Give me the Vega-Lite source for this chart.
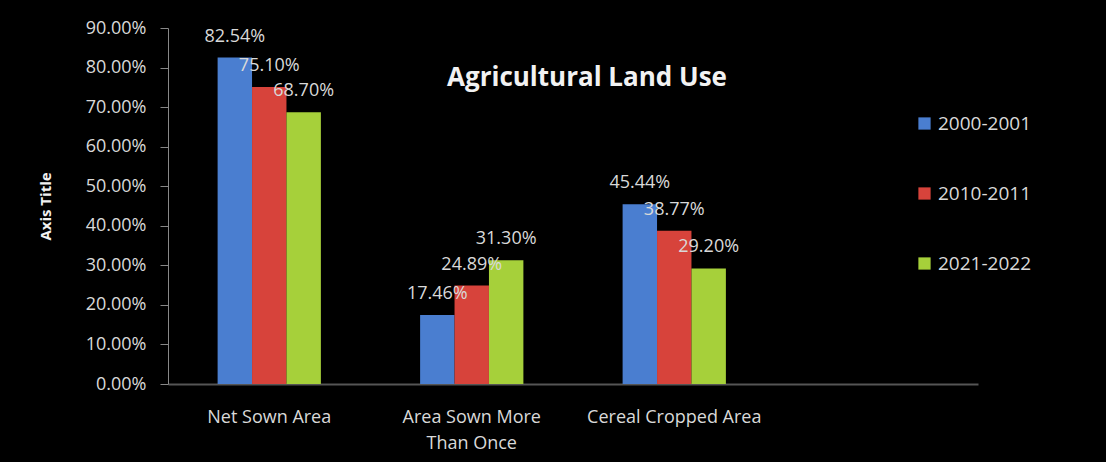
{
  "$schema": "https://vega.github.io/schema/vega-lite/v6.json",
  "autosize": "none",
  "width": 810,
  "height": 356,
  "padding": {"left": 168, "top": 28, "right": 128, "bottom": 78},
  "background": "#000000",
  "config": {"view": {"stroke": null}, "font": "Open Sans"},
  "title": {
    "text": "Agricultural Land Use",
    "anchor": "middle",
    "orient": "top",
    "offset": -72,
    "dx": 14,
    "color": "#f2f2f2",
    "fontSize": 26,
    "fontWeight": "bold",
    "font": "Open Sans"
  },
  "data": {
    "values": [
      {"cat": "Net Sown Area", "year": "2000-2001", "v": 0.8254},
      {"cat": "Net Sown Area", "year": "2010-2011", "v": 0.751},
      {"cat": "Net Sown Area", "year": "2021-2022", "v": 0.687},
      {"cat": "Area Sown More Than Once", "year": "2000-2001", "v": 0.1746},
      {"cat": "Area Sown More Than Once", "year": "2010-2011", "v": 0.2489},
      {"cat": "Area Sown More Than Once", "year": "2021-2022", "v": 0.313},
      {"cat": "Cereal Cropped Area", "year": "2000-2001", "v": 0.4544},
      {"cat": "Cereal Cropped Area", "year": "2010-2011", "v": 0.3877},
      {"cat": "Cereal Cropped Area", "year": "2021-2022", "v": 0.292}
    ]
  },
  "encoding": {
    "x": {
      "field": "cat",
      "type": "nominal",
      "sort": null,
      "scale": {"domain": ["Net Sown Area", "Area Sown More Than Once", "Cereal Cropped Area", " "], "paddingInner": 0.49, "paddingOuter": 0.245},
      "axis": {
        "title": null,
        "labelAngle": 0,
        "labelColor": "#d9d9d9",
        "labelFontSize": 18,
        "labelPadding": 24,
        "ticks": false,
        "domainColor": "#555555",
        "domainWidth": 2,
        "labelExpr": "datum.label == 'Area Sown More Than Once' ? ['Area Sown More', 'Than Once'] : datum.label",
        "labelLineHeight": 26
      }
    },
    "xOffset": {"field": "year", "type": "nominal", "scale": {"paddingInner": 0, "paddingOuter": 0}},
    "y": {
      "field": "v",
      "type": "quantitative",
      "scale": {"domain": [0, 0.9]},
      "axis": {
        "title": "Axis Title",
        "titleColor": "#f2f2f2",
        "titleFontSize": 15,
        "titleFontWeight": "bold",
        "titlePadding": 32,
        "format": ".2%",
        "values": [0, 0.1, 0.2, 0.3, 0.4, 0.5, 0.6, 0.7, 0.8, 0.9],
        "labelColor": "#d9d9d9",
        "labelFontSize": 18,
        "labelPadding": 14,
        "tickSize": 8,
        "tickColor": "#888888",
        "domainColor": "#888888",
        "grid": false
      }
    },
    "color": {
      "field": "year",
      "type": "nominal",
      "scale": {"domain": ["2000-2001", "2010-2011", "2021-2022"], "range": ["#4a7ed0", "#d7433b", "#a6d03a"]},
      "legend": {
        "title": null,
        "orient": "none",
        "legendX": 747,
        "legendY": 86,
        "symbolType": "square",
        "symbolSize": 150,
        "symbolStrokeWidth": 0,
        "labelColor": "#d9d9d9",
        "labelFontSize": 19,
        "labelOffset": 4,
        "rowPadding": 50
      }
    }
  },
  "layer": [
    {"mark": {"type": "bar"}},
    {
      "mark": {"type": "text", "baseline": "bottom", "dy": -12, "fontSize": 18},
      "encoding": {
        "text": {"field": "v", "type": "quantitative", "format": ".2%"},
        "color": {"value": "#d9d9d9"}
      }
    }
  ]
}
